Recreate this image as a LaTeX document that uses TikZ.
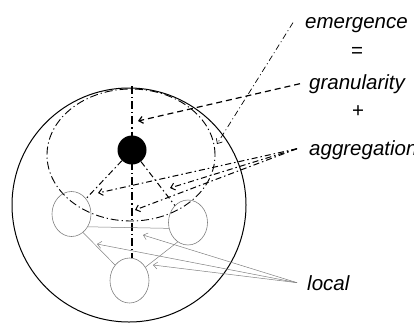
\documentclass[tikz,border=0pt]{standalone}
\usepackage{fontspec}
\setmainfont{Liberation Sans}
\usetikzlibrary{shapes.geometric,arrows.meta,positioning,calc}

\tikzset{
  lbl/.style={font=\fontsize{20.5}{24}\selectfont\itshape, inner sep=0pt, anchor=base west},
  sym/.style={font=\fontsize{20.5}{24}\selectfont, inner sep=0pt},
  dashdot/.style={line width=1pt, dash pattern=on 6pt off 3pt on 1.5pt off 3pt},
  longdd/.style={line width=0.9pt, dash pattern=on 8pt off 3pt on 1.2pt off 3pt},
  thindd/.style={line width=0.7pt, dash pattern=on 6pt off 3pt on 1pt off 3pt},
  ptr/.style={-{Straight Barb[length=4pt,width=7pt]}},
  unit/.style={ellipse, draw=gray, line width=0.6pt, minimum width=39pt, minimum height=45pt, inner sep=0pt},
  link/.style={draw=gray, line width=0.5pt}
}

\begin{document}
\begin{tikzpicture}[x=1pt,y=-1pt]
\useasboundingbox (0,0) rectangle (414,324);

% whole and its parts
\node[circle, draw, line width=1pt, minimum size=234pt, inner sep=0pt] (big) at (129,205) {};
\node[ellipse, draw, longdd, minimum width=168pt, minimum height=132pt, inner sep=0pt] (whole) at (131,155) {};
\node[unit] (cl) at (71.5,214) {};
\node[unit] (cr) at (188,222.5) {};
\node[unit] (cb) at (129.5,280.5) {};

\draw[longdd, line width=1.2pt] (132,86) -- (132,258);
\node[circle, fill=black, minimum size=29pt, inner sep=0pt] (dot) at (132,150) {};
\draw[dashdot] (dot) -- (cl);
\draw[dashdot] (dot) -- (cr);

% local links
\draw[link] (cl.-38) -- (cr.-163);
\draw[link] (cl.-58) -- (cb.133);
\draw[link] (cr.-118) -- (cb.40);

% labels
\node[lbl] (em) at (305,28) {emergence};
\node[sym] (eq) at (357,52) {=};
\node[lbl] (gr) at (309,89) {granularity};
\node[sym] (pl) at (358,112) {+};
\node[lbl] (ag) at (309,155) {aggregation};
\node[lbl] (lo) at (307,290) {local};

% pointers
\coordinate (tipEm) at (217,144);
\coordinate (tipGr) at (138,121);
\coordinate (tipAg1) at (98,193);
\coordinate (tipAg2) at (170,188);
\coordinate (tipAg3) at (135,210);
\coordinate (tipLo1) at (143,235);
\coordinate (tipLo2) at (97,244);
\coordinate (tipLo3) at (153,265);

\draw[thindd, ptr] ([xshift=-12pt,yshift=2pt]em.west) -- (tipEm);
\draw[line width=1.2pt, dash pattern=on 6pt off 4pt, ptr] ([xshift=-9pt]gr.west) -- (tipGr);
\foreach \t in {tipAg1,tipAg2,tipAg3}
  \draw[dashdot, ptr] ([xshift=-12pt,yshift=1pt]ag.west) -- (\t);
\foreach \t in {tipLo1,tipLo2,tipLo3}
  \draw[link, ptr] ([xshift=-10pt]lo.west) -- (\t);

\end{tikzpicture}
\end{document}
